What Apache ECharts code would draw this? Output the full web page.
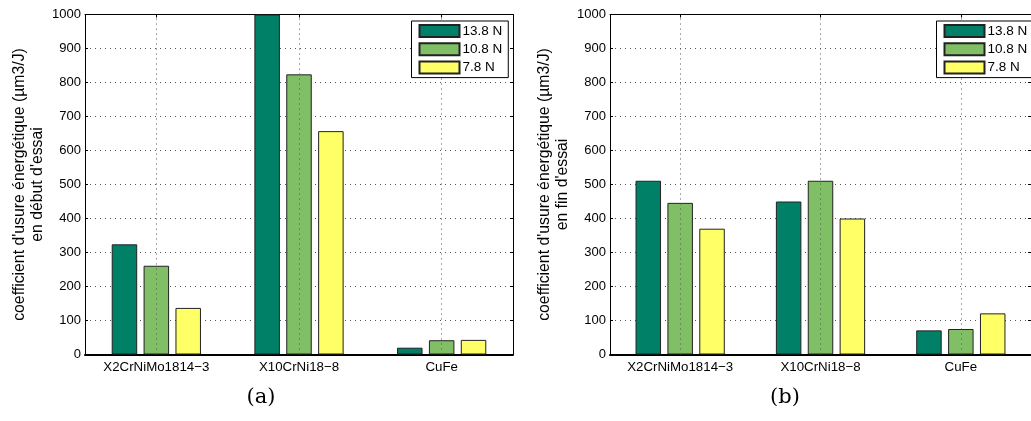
<!DOCTYPE html>
<html>
<head>
<meta charset="utf-8">
<script src="https://cdn.jsdelivr.net/npm/echarts@6/dist/echarts.min.js"></script>
<style>
html,body{margin:0;padding:0;background:#fff;}
#main{width:1031px;height:421px;}
</style>
</head>
<body>
<div id="main"></div>
<script>
// categories + series values
var categories = ['X2CrNiMo1814\u22123', 'X10CrNi18\u22128', 'CuFe'];
var loads = ['13.8 N', '10.8 N', '7.8 N'];
var yTicks = [0, 1000, 100]; // min, max, interval
// (a) en début d'essai
var debut138 = [324, 1000, 20];
var debut108 = [261, 824, 42];
var debut78 = [137, 657, 43];
// (b) en fin d'essai
var fin138 = [511, 450, 71];
var fin108 = [446, 511, 75];
var fin78 = [370, 400, 121];
var colors = ['#008066', '#80bf66', '#ffff66'];
var yNames = ["coefficient d'usure énergétique (µm3/J)\nen début d'essai",
              "coefficient d'usure énergétique (µm3/J)\nen fin d'essai"];
var captions = ['(a)', '(b)'];

var chart = echarts.init(document.getElementById('main'));
var font = 'Liberation Sans';

var grids = [
    {left: 85, right: 518, top: 14.5, bottom: 66.5},
    {left: 610, right: -7, top: 14.5, bottom: 66.5}
];

var xAxes = [], yAxes = [], series = [], legends = [];
grids.forEach(function (g, i) {
    // bottom category axis
    xAxes.push({
        type: 'category', gridIndex: i, data: categories, position: 'bottom',
        axisLine: {lineStyle: {color: '#000', width: 2}},
        axisTick: {show: true, inside: true, length: 3, alignWithLabel: true, lineStyle: {color: '#000'}},
        axisLabel: {color: '#000', fontFamily: font, fontSize: 13.3, margin: 6},
        splitLine: {show: false}
    });
    // top mirror axis (frame)
    xAxes.push({
        type: 'category', gridIndex: i, data: categories, position: 'top',
        axisLine: {onZero: false, lineStyle: {color: '#000', width: 1}},
        axisTick: {show: true, inside: true, length: 3, alignWithLabel: true, lineStyle: {color: '#000'}},
        axisLabel: {show: false}, splitLine: {show: false}
    });
    yAxes.push({
        type: 'value', gridIndex: i, min: yTicks[0], max: yTicks[1], interval: yTicks[2],
        name: yNames[i], nameLocation: 'middle', nameGap: 38, nameRotate: 90,
        nameTextStyle: {color: '#000', fontFamily: font, fontSize: 15.8, lineHeight: 18},
        axisLine: {show: true, lineStyle: {color: '#000', width: 1}},
        axisTick: {show: true, inside: true, length: 3, lineStyle: {color: '#000'}},
        axisLabel: {color: '#000', fontFamily: font, fontSize: 13, margin: 4,
            formatter: function (v) { return String(v); }},
        splitLine: {show: true, lineStyle: {color: '#555', width: 1, type: [1, 4]}}
    });
    yAxes.push({
        type: 'value', gridIndex: i, min: yTicks[0], max: yTicks[1], interval: yTicks[2],
        position: 'right',
        axisLine: {show: true, lineStyle: {color: '#000', width: 1}},
        axisTick: {show: true, inside: true, length: 3, lineStyle: {color: '#000'}},
        axisLabel: {show: false}, splitLine: {show: false}
    });
});

var setA = [debut138, debut108, debut78];
var setB = [fin138, fin108, fin78];
[setA, setB].forEach(function (set, i) {
    // vertical dotted grid lines at category centers, under the bars
    series.push({
        type: 'line', xAxisIndex: i * 2, yAxisIndex: i * 2, data: [], z: 1,
        silent: true,
        markLine: {
            symbol: 'none', silent: true, label: {show: false},
            lineStyle: {color: '#555', width: 1, type: [1, 4]},
            data: categories.map(function (c) { return {xAxis: c}; })
        }
    });
    set.forEach(function (vals, k) {
        series.push({
            name: loads[k], type: 'bar', xAxisIndex: i * 2, yAxisIndex: i * 2,
            data: vals, barWidth: 25.5, barGap: '25%', z: 3,
            itemStyle: {color: colors[k], borderColor: '#222', borderWidth: 1},
            emphasis: {disabled: true}
        });
    });
});

[411.5, 936.5].forEach(function (x) {
    legends.push({
        left: x, top: 21, orient: 'vertical', icon: 'rect',
        itemWidth: 40, itemHeight: 12, itemGap: 4.3, padding: [3, 6, 3, 7],
        borderColor: '#000', borderWidth: 1, backgroundColor: '#fff',
        textStyle: {color: '#000', fontFamily: font, fontSize: 13.5, lineHeight: 12, padding: [0, 0, 0, -2]},
        data: loads, z: 10
    });
});

var option = {
    animation: false,
    color: colors,
    grid: grids,
    xAxis: xAxes,
    yAxis: yAxes,
    legend: legends,
    series: series,
    graphic: [
        {type: 'text', x: 261, y: 398, style: {text: captions[0], font: '21px "DejaVu Serif"', fill: '#000', align: 'center', verticalAlign: 'middle'}},
        {type: 'text', x: 785, y: 398, style: {text: captions[1], font: '21px "DejaVu Serif"', fill: '#000', align: 'center', verticalAlign: 'middle'}}
    ]
};
chart.setOption(option);
</script>
</body>
</html>
